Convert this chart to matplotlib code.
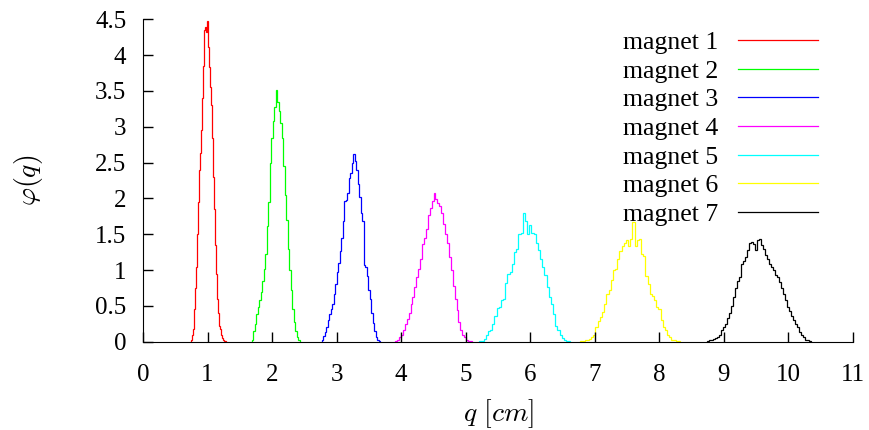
import numpy as np
import matplotlib
matplotlib.use("Agg")
import matplotlib.pyplot as plt

plt.rcParams["font.family"] = ["Liberation Serif", "DejaVu Serif"]
plt.rcParams["mathtext.fontset"] = "cm"

# histogram data: first bin edge, bin width, bin heights
labels = ["magnet 1", "magnet 2", "magnet 3", "magnet 4",
          "magnet 5", "magnet 6", "magnet 7"]
colors = ["#ff0000", "#00ff00", "#0000ff", "#ff00ff",
          "#00ffff", "#ffff00", "#000000"]

starts = [0.744, 1.685, 2.770, 3.907, 5.210, 6.775, 8.740]
widths = [0.0155, 0.0231, 0.0232, 0.0297, 0.0336, 0.0336, 0.0308]

m1 = [0.02, 0.09, 0.18, 0.45, 0.75, 1.05, 1.50, 1.95, 2.40, 2.63,
      2.95, 3.40, 3.85, 4.35, 4.40, 4.33, 4.47, 4.12, 3.84, 3.55,
      3.30, 2.85, 2.30, 1.85, 1.35, 0.95, 0.60, 0.40, 0.22, 0.18,
      0.10, 0.05, 0.03, 0.01, 0.01]
m2 = [0.03, 0.15, 0.25, 0.38, 0.49, 0.58, 0.70, 0.85, 1.02, 1.22,
      1.61, 1.95, 2.50, 2.85, 3.08, 3.28, 3.52, 3.35, 3.22, 3.05,
      2.85, 2.45, 2.05, 1.70, 1.30, 1.00, 0.72, 0.45, 0.28, 0.15,
      0.07, 0.02]
m3 = [0.02, 0.08, 0.13, 0.20, 0.30, 0.38, 0.46, 0.52, 0.66, 0.80,
      0.97, 1.10, 1.26, 1.45, 1.68, 1.96, 1.98, 2.07, 2.28, 2.35,
      2.49, 2.62, 2.52, 2.40, 2.20, 2.02, 1.80, 1.68, 1.07, 1.05,
      0.92, 0.72, 0.60, 0.40, 0.26, 0.15, 0.07, 0.03, 0.01]
m4 = [0.01, 0.03, 0.06, 0.09, 0.16, 0.25, 0.32, 0.40, 0.52, 0.63,
      0.76, 0.90, 1.02, 1.15, 1.36, 1.45, 1.58, 1.77, 1.86, 1.96,
      2.07, 1.99, 1.94, 1.90, 1.80, 1.65, 1.50, 1.38, 1.18, 1.00,
      0.78, 0.60, 0.44, 0.28, 0.16, 0.09, 0.06, 0.02, 0.01, 0.01]
m5 = [0.01, 0.01, 0.04, 0.09, 0.15, 0.17, 0.25, 0.36, 0.47, 0.48,
      0.58, 0.60, 0.82, 0.95, 0.98, 1.08, 1.25, 1.30, 1.50, 1.52,
      1.80, 1.68, 1.50, 1.63, 1.52, 1.50, 1.38, 1.28, 1.15, 1.05,
      0.93, 0.77, 0.62, 0.52, 0.38, 0.22, 0.16, 0.10, 0.05, 0.02,
      0.01, 0.01]
m6 = [0.01, 0.01, 0.02, 0.03, 0.04, 0.07, 0.10, 0.20, 0.29, 0.34,
      0.42, 0.52, 0.66, 0.72, 0.86, 1.00, 1.02, 1.16, 1.26, 1.33,
      1.38, 1.42, 1.33, 1.44, 1.67, 1.33, 1.42, 1.44, 1.23, 1.19,
      0.92, 0.80, 0.66, 0.64, 0.58, 0.48, 0.45, 0.30, 0.21, 0.16,
      0.10, 0.06, 0.03, 0.02, 0.01, 0.01]
m7 = [0.01, 0.02, 0.03, 0.04, 0.05, 0.07, 0.09, 0.16, 0.20, 0.25,
      0.33, 0.40, 0.50, 0.63, 0.75, 0.85, 0.91, 1.09, 1.12, 1.18,
      1.28, 1.38, 1.39, 1.36, 1.28, 1.42, 1.44, 1.35, 1.30, 1.21,
      1.16, 1.09, 1.05, 1.00, 0.93, 0.91, 0.84, 0.75, 0.67, 0.58,
      0.49, 0.43, 0.36, 0.30, 0.25, 0.20, 0.14, 0.10, 0.07, 0.03,
      0.02, 0.01]
heights = [m1, m2, m3, m4, m5, m6, m7]

xticks = list(range(0, 12))
yticks = [0, 0.5, 1, 1.5, 2, 2.5, 3, 3.5, 4, 4.5]
ytick_labels = ["0", "0.5", "1", "1.5", "2", "2.5", "3", "3.5", "4", "4.5"]

fig = plt.figure(figsize=(8.69, 4.30), dpi=100)
ax = fig.add_axes([0.1646, 0.2053, 0.8170, 0.7497])

for lab, col, x0, w, h in zip(labels, colors, starts, widths, heights):
    edges = x0 + w * np.arange(len(h) + 1)
    ax.stairs(h, edges, baseline=0, color=col, lw=0.9, label=lab)

ax.set_xlim(0, 11)
ax.set_ylim(0, 4.5)
ax.set_xticks(xticks)
ax.set_yticks(yticks)
ax.set_yticklabels(ytick_labels)
ax.spines["top"].set_visible(False)
ax.spines["right"].set_visible(False)
ax.tick_params(direction="in", length=7, width=1, labelsize=18)
ax.tick_params(axis="x", pad=16)
ax.tick_params(axis="y", pad=12)

ax.set_xlabel("$q\\ [cm]$", fontsize=20, labelpad=8)
ax.set_ylabel("$\\varphi(q)$", fontsize=20, labelpad=36)

leg = ax.legend(loc="upper right", bbox_to_anchor=(818 / 869, 1 - 31 / 430),
                bbox_transform=fig.transFigure, frameon=False,
                markerfirst=False, fontsize=18.5, handlelength=3.1,
                handletextpad=0.8, labelspacing=0.22, borderpad=0,
                borderaxespad=0)

fig.savefig("out.png", dpi=100)
